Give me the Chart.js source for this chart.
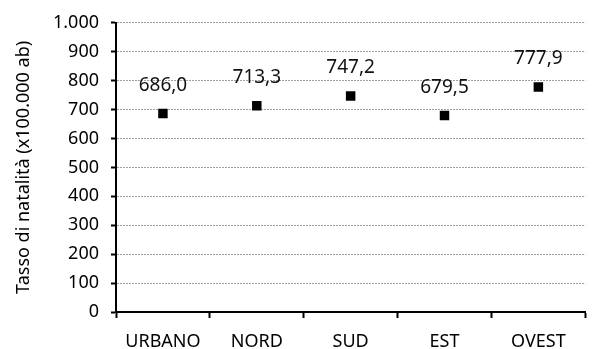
<!DOCTYPE html>
<html lang="it">
<head>
<meta charset="utf-8">
<title>Tasso di natalità</title>
<script src="https://cdn.jsdelivr.net/npm/chart.js@4/dist/chart.umd.min.js"></script>
<style>
  html, body { margin: 0; padding: 0; background: #ffffff; }
  canvas { display: block; }
</style>
</head>
<body>
<canvas id="chart" width="592" height="349"></canvas>
<script>
// Zone e tasso di natalità per 100.000 abitanti
const categories = ['URBANO', 'NORD', 'SUD', 'EST', 'OVEST'];
const rates = [686.0, 713.3, 747.2, 679.5, 777.9];
const yMin = 0;
const yMax = 1000;
const yStep = 100;
const yTitle = 'Tasso di natalità (x100.000 ab)';

const FONT = '"Noto Sans", "Open Sans", "DejaVu Sans", sans-serif';

// Numeri in formato italiano: punto per le migliaia, virgola per i decimali
function fmtThousands(v) {
  return String(Math.round(v)).replace(/\B(?=(\d{3})+(?!\d))/g, '.');
}
function fmtDecimal(v) {
  return v.toFixed(1).replace('.', ',');
}

// Etichette dei valori sopra ciascun punto
const valueLabels = {
  id: 'valueLabels',
  afterDatasetsDraw(chart) {
    const ctx = chart.ctx;
    const meta = chart.getDatasetMeta(0);
    const data = chart.data.datasets[0].data;
    ctx.save();
    ctx.font = '19px ' + FONT;
    ctx.fillStyle = '#111111';
    ctx.textAlign = 'center';
    ctx.textBaseline = 'middle';
    meta.data.forEach((pt, i) => {
      ctx.fillText(fmtDecimal(data[i]), pt.x, pt.y - 28);
    });
    ctx.restore();
  }
};

new Chart(document.getElementById('chart'), {
  type: 'line',
  data: {
    labels: categories,
    datasets: [{
      data: rates,
      showLine: false,
      pointStyle: 'rect',
      pointRadius: 6.7,
      pointHoverRadius: 6.7,
      pointBackgroundColor: '#000000',
      pointBorderColor: '#000000',
      pointBorderWidth: 0
    }]
  },
  options: {
    responsive: false,
    animation: false,
    events: [],
    layout: { padding: { top: 22, right: 1, bottom: 0, left: 0 } },
    plugins: {
      legend: { display: false },
      tooltip: { enabled: false }
    },
    scales: {
      x: {
        offset: true,
        grid: {
          offset: true,
          drawOnChartArea: false,
          drawTicks: true,
          tickLength: 6,
          tickColor: '#000000',
          tickWidth: 2
        },
        border: { color: '#000000', width: 2 },
        ticks: {
          color: '#000000',
          padding: 13,
          maxRotation: 0,
          font: { family: FONT, size: 18 }
        },
        afterFit(scale) { scale.height = 37; }
      },
      y: {
        min: yMin,
        max: yMax,
        grid: {
          color: '#a0a0a0',
          lineWidth: 1,
          drawTicks: true,
          tickLength: 5,
          tickColor: '#000000',
          tickWidth: 2,
          tickBorderDash: []
        },
        border: { color: '#000000', width: 2, dash: [2, 1] },
        ticks: {
          stepSize: yStep,
          color: '#000000',
          padding: 12,
          font: { family: FONT, size: 18 },
          callback: (v) => fmtThousands(v)
        },
        title: {
          display: true,
          text: yTitle,
          color: '#000000',
          padding: { top: 13, bottom: 0 },
          font: { family: FONT, size: 18 }
        },
        afterFit(scale) { scale.width = 116; }
      }
    }
  },
  plugins: [valueLabels]
});
</script>
</body>
</html>
